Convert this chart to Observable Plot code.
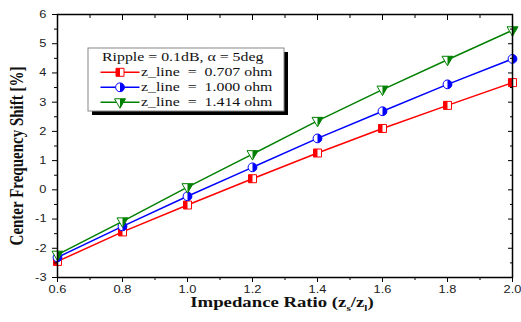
<!DOCTYPE html>
<html><head><meta charset="utf-8">
<script src="https://cdn.jsdelivr.net/npm/d3@7"></script>
<script src="https://cdn.jsdelivr.net/npm/@observablehq/plot@0.6"></script>
<style>body{margin:0;background:#fff}</style>
</head><body><div id="chart"></div>
<script>
const ratio = [0.6, 0.8, 1.0, 1.2, 1.4, 1.6, 1.8, 2.0];
const shift0707 = [-2.45, -1.44, -0.52, 0.38, 1.26, 2.10, 2.89, 3.67];
const shift1000 = [-2.31, -1.25, -0.22, 0.77, 1.76, 2.69, 3.61, 4.48];
const shift1414 = [-2.22, -1.08, 0.09, 1.22, 2.36, 3.43, 4.45, 5.46];
const seriesNames = ["z_line  =  0.707 ohm", "z_line  =  1.000 ohm", "z_line  =  1.414 ohm"];
const seriesColors = ["#ff0000", "#0000ff", "#008000"];
const legendTitle = "Ripple = 0.1dB, \u03b1 = 5deg";
const xTicks = [0.6, 0.8, 1.0, 1.2, 1.4, 1.6, 1.8, 2.0];
const xMinor = [0.7, 0.9, 1.1, 1.3, 1.5, 1.7, 1.9];
const yTicks = [-3, -2, -1, 0, 1, 2, 3, 4, 5, 6];
const yMinor = [-2.5, -1.5, -0.5, 0.5, 1.5, 2.5, 3.5, 4.5, 5.5];

const values = [shift0707, shift1000, shift1414];
const rows = [];
values.forEach((vs, i) => vs.forEach((v, j) => rows.push({series: i, x: ratio[j], y: v})));

const sym = fn => ({draw(c, size) { const r = Math.sqrt(size / Math.PI); fn(c, r); }});
const shapes = [
  [sym((c, r) => { c.moveTo(-r, -r); c.lineTo(r, -r); c.lineTo(r, r); c.lineTo(-r, r); c.closePath(); }),
   sym((c, r) => { c.moveTo(-r, -r); c.lineTo(0, -r); c.lineTo(0, r); c.lineTo(-r, r); c.closePath(); })],
  [sym((c, r) => { c.moveTo(r, 0); c.arc(0, 0, r, 0, 2 * Math.PI); c.closePath(); }),
   sym((c, r) => { c.moveTo(0, -r); c.arc(0, 0, r, -Math.PI / 2, Math.PI / 2); c.closePath(); })],
  [sym((c, r) => { c.moveTo(-1.25 * r, -0.8 * r); c.lineTo(1.25 * r, -0.8 * r); c.lineTo(0, 1.35 * r); c.closePath(); }),
   sym((c, r) => { c.moveTo(0, -0.8 * r); c.lineTo(1.25 * r, -0.8 * r); c.lineTo(0, 1.35 * r); c.closePath(); })]
];
const markerR = [4.0, 4.4, 4.4];

const seriesMarks = values.flatMap((vs, i) => {
  const d = rows.filter(r => r.series === i);
  return [
    Plot.line(d, {x: "x", y: "y", stroke: seriesColors[i], strokeWidth: 1.5}),
    Plot.dot(d, {x: "x", y: "y", symbol: shapes[i][0], r: markerR[i], fill: "white", stroke: seriesColors[i], strokeWidth: 1}),
    Plot.dot(d, {x: "x", y: "y", symbol: shapes[i][1], r: markerR[i], fill: seriesColors[i]})
  ];
});

const sans = "'Liberation Sans', Arial, sans-serif";
const serif = "'Liberation Serif', 'Times New Roman', serif";
const STRETCH = 1.22;

const chart = Plot.plot({
  width: 521, height: 322,
  marginLeft: 57, marginRight: 9, marginTop: 14, marginBottom: 45,
  style: {fontFamily: sans, fontSize: "10.5px", background: "white"},
  x: {domain: [0.6, 2.0]},
  y: {domain: [-3, 6]},
  marks: [
    ...seriesMarks,
    Plot.axisX(xTicks, {anchor: "bottom", tickSize: 5, tickPadding: 3, tickFormat: d => d.toFixed(1), label: null, fontSize: 10.5, fill: "#222"}),
    Plot.axisX(xMinor, {anchor: "bottom", tickSize: 3, text: null, label: null}),
    Plot.axisX(xTicks, {anchor: "top", tickSize: -5, text: null, label: null}),
    Plot.axisX(xMinor, {anchor: "top", tickSize: -3, text: null, label: null}),
    Plot.axisY(yTicks, {anchor: "left", tickSize: 5, tickPadding: 6, tickFormat: d => String(d), label: null, fontSize: 10.5, fill: "#222"}),
    Plot.axisY(yMinor, {anchor: "left", tickSize: 3, text: null, label: null}),
    Plot.axisY(yTicks, {anchor: "right", tickSize: -5, text: null, label: null}),
    Plot.axisY(yMinor, {anchor: "right", tickSize: -3, text: null, label: null}),
    Plot.frame({stroke: "black", strokeWidth: 1.5})
  ]
});

const svg = d3.select(chart);
// horizontally stretched tick labels, as in the reference
svg.selectAll("g[aria-label='x-axis tick label'] text, g[aria-label='y-axis tick label'] text")
  .attr("transform", function() { return (this.getAttribute("transform") || "") + ` scale(${STRETCH},1)`; });

// axis titles
svg.append("text").attr("transform", `translate(23,156) scale(1.25,1) rotate(-90)`)
  .attr("text-anchor", "middle").attr("font-family", serif).attr("font-weight", "bold")
  .attr("font-size", 15).attr("fill", "#111").text("Center Frequency Shift [%]");
const xl = svg.append("text").attr("transform", `translate(282,307) scale(1.25,1)`)
  .attr("text-anchor", "middle").attr("font-family", serif).attr("font-weight", "bold")
  .attr("font-size", 15).attr("fill", "#111");
xl.append("tspan").text("Impedance Ratio (z");
xl.append("tspan").attr("font-size", 9).attr("dy", 4).text("s");
xl.append("tspan").attr("dy", -4).text("/z");
xl.append("tspan").attr("font-size", 9).attr("dy", 4).text("l");
xl.append("tspan").attr("dy", -4).text(")");

// legend
const lg = svg.append("g").attr("transform", "translate(88,48)").attr("text-anchor", "start");
lg.append("rect").attr("x", 4).attr("y", 4).attr("width", 196).attr("height", 63).attr("fill", "black");
lg.append("rect").attr("x", 0).attr("y", 0).attr("width", 196).attr("height", 63).attr("fill", "white").attr("stroke", "#888").attr("stroke-width", 1);
lg.append("text").attr("transform", `translate(14,13) scale(${STRETCH},1)`).attr("text-anchor", "start")
  .attr("font-family", serif).attr("font-size", 13).attr("fill", "#111").text(legendTitle);
seriesNames.forEach((name, i) => {
  const yy = 28 + i * 15;
  const g = lg.append("g");
  g.append("line").attr("x1", 12.5).attr("x2", 51.5).attr("y1", yy - 3.7).attr("y2", yy - 3.7).attr("stroke", seriesColors[i]).attr("stroke-width", 1.5);
  const r = markerR[i], size = Math.PI * r * r;
  const pf = d3.path(); shapes[i][0].draw(pf, size);
  const ph = d3.path(); shapes[i][1].draw(ph, size);
  g.append("path").attr("transform", `translate(32,${yy - 3.7})`).attr("d", pf.toString()).attr("fill", "white").attr("stroke", seriesColors[i]);
  g.append("path").attr("transform", `translate(32,${yy - 3.7})`).attr("d", ph.toString()).attr("fill", seriesColors[i]);
  g.append("text").attr("transform", `translate(53,${yy}) scale(${STRETCH},1)`).attr("text-anchor", "start")
    .attr("font-family", serif).attr("font-size", 13).attr("fill", "#111").style("white-space", "pre").text(name);
});

document.getElementById("chart").appendChild(chart);
</script>
</body></html>
